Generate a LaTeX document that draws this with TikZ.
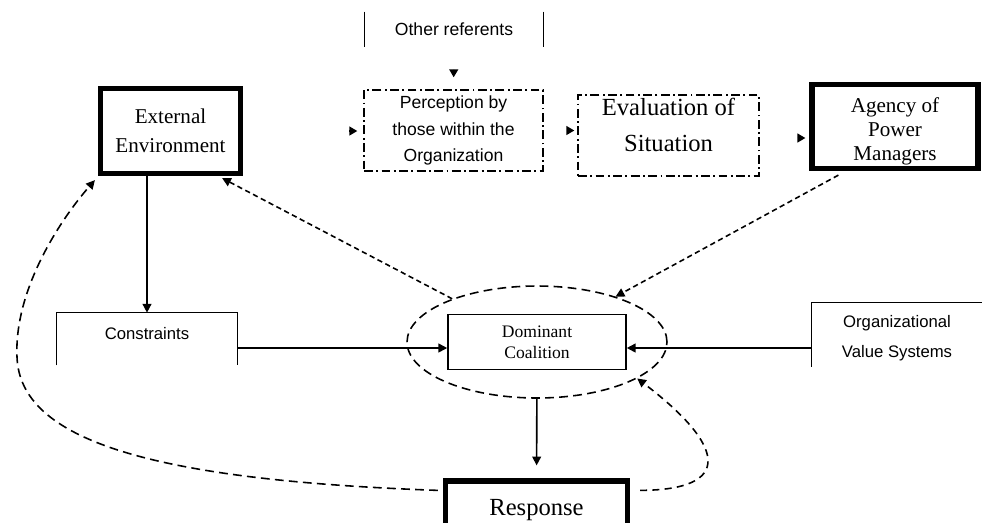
\documentclass[tikz,border=0pt]{standalone}
\usepackage{fontspec}
\setmainfont{Liberation Serif}
\setsansfont{Liberation Sans}
\usepackage{tikz}
\usetikzlibrary{shapes.geometric,arrows.meta,calc}

\begin{document}
\begin{tikzpicture}[x=0.02cm,y=-0.02cm,
        every node/.style={align=center, inner sep=0.07cm},
        heavybox/.style={draw, line width=3pt},
        plainbox/.style={draw, line width=0.9pt},
        dashbox/.style={draw, line width=0.8pt, dash pattern=on 5pt off 2pt on 1pt off 2pt},
        sanstext/.style={font=\sffamily\fontsize{9.5}{17}\selectfont},
        arr/.style={-{Triangle[length=5pt,width=5pt]}, line width=0.9pt},
        tiponly/.style={-{Triangle[length=4.5pt,width=5pt]}, line width=0.9pt},
        feedback/.style={-{Triangle[length=5pt,width=5pt]}, line width=0.9pt, dash pattern=on 3pt off 2pt}]
        \useasboundingbox (0,0) rectangle (982,522);

        \node[minimum width=3.56cm, minimum height=0.7cm, font=\sffamily\fontsize{10}{12}\selectfont] (ref) at (454,29.5) {Other referents};
        \draw[line width=0.9pt] (ref.north west) -- (ref.south west) (ref.north east) -- (ref.south east);

        \node[heavybox, minimum width=2.8cm, minimum height=1.7cm, font=\fontsize{12}{16.5}\selectfont] (ext) at (170.5,131) {External\\Environment};
        \node[dashbox, minimum width=3.58cm, minimum height=1.62cm, font=\sffamily\fontsize{10}{15.3}\selectfont] (perc) at (453.5,130.5) {Perception by\\those within the\\Organization};
        \node[dashbox, minimum width=3.62cm, minimum height=1.62cm,
            label={[name=evaltext, yshift=0.21cm, font=\fontsize{14}{20}\selectfont]center:{Evaluation of\\Situation}}] (eval) at (668.5,135.5) {};
        \node[heavybox, minimum width=3.32cm, minimum height=1.68cm,
            label={[name=agencytext, yshift=-0.1cm, font=\fontsize{12}{13.6}\selectfont]center:{Agency of\\Power\\Managers}}] (agency) at (895,126.5) {};

        \node[sanstext, minimum width=3.6cm, text height=0.45cm, text depth=0.45cm] (cons) at (147,339) {Constraints};
        \draw[line width=0.9pt] (cons.south west) -- (cons.north west) -- (cons.north east) -- (cons.south east);

        \node[plainbox, minimum width=3.56cm, minimum height=1.1cm, font=\fontsize{10}{12}\selectfont] (dom) at (537,342) {Dominant\\Coalition};
        \node[ellipse, draw, line width=0.9pt, dash pattern=on 5pt off 3pt, minimum width=5.2cm, minimum height=2.24cm, inner sep=0pt] (coal) at (dom.center) {};

        \node[sanstext, minimum width=3.4cm, minimum height=1.14cm] (org) at (897,338) {Organizational\\Value Systems};
        \draw[line width=0.9pt] (org.south west) -- ([yshift=0.13cm]org.north west) -- ([yshift=0.13cm]org.north east);

        \node[heavybox, minimum width=3.64cm, minimum height=1.16cm, font=\fontsize{14}{16}\selectfont] (resp) at (536.5,510) {Response};

        \draw[tiponly, shorten <=0.46cm, shorten >=0.24cm] (ref.south) -- (perc.north);
        \draw[tiponly, shorten <=2.12cm, shorten >=0.12cm] (ext.east) -- (ext.east -| perc.west);
        \draw[tiponly, shorten <=0.48cm, shorten >=0.06cm] (perc.east) -- (perc.east -| eval.west);
        \draw[tiponly, shorten <=0.76cm, shorten >=0.08cm] ([yshift=-0.05cm]eval.east) -- ([yshift=-0.05cm]eval.east -| agency.west);

        \draw[arr] (cons.north |- ext.south) -- (cons.north);
        \draw[arr] ([yshift=-0.18cm]cons.east) -- ([yshift=-0.12cm]dom.west);
        \draw[arr] ([yshift=-0.2cm]org.west) -- ([yshift=-0.12cm]dom.east);
        \draw[arr, shorten >=0.26cm] (coal) -- (resp);

        \draw[feedback] (coal.153) -- ([xshift=-0.42cm,yshift=-0.04cm]ext.south east);
        \draw[feedback] ([xshift=0.58cm,yshift=-0.08cm]agency.south west) -- (coal.30);
        \draw[feedback, dash pattern=on 5pt off 3pt] ([xshift=-0.1cm,yshift=-0.24cm]resp.north west)
            .. controls (150,480) and (20,440) .. (17,357)
            .. controls (14,290) and (60,220) .. ([xshift=-0.06cm,yshift=-0.08cm]ext.south west);
        \draw[feedback, dash pattern=on 4pt off 3pt] ([xshift=0.2cm,yshift=-0.24cm]resp.north east) .. controls (735,490) and (725,445) .. (coal.-20);
\end{tikzpicture}
\end{document}
